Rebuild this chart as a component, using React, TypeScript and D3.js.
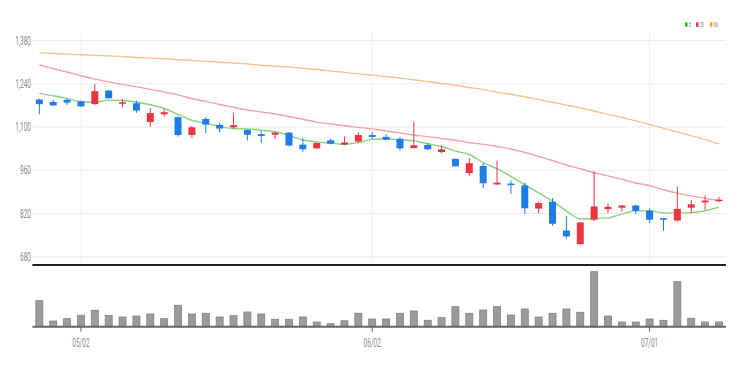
import React from "react";
import * as d3 from "d3";

const dates = ["04/27","04/28","04/29","05/02","05/03","05/04","05/06","05/09","05/10","05/11","05/12","05/13","05/16","05/17","05/18","05/19","05/20","05/23","05/24","05/25","05/26","05/27","05/30","05/31","06/02","06/03","06/07","06/08","06/09","06/10","06/13","06/14","06/15","06/16","06/17","06/20","06/21","06/22","06/23","06/24","06/27","06/28","06/29","06/30","07/01","07/04","07/05","07/06","07/07","07/08"];
const openP = [1189,1181,1188,1183,1174,1218,1176,1177,1116,1141,1132,1074,1126,1107,1099,1091,1077,1075,1082,1043,1031,1057,1043,1053,1074,1068,1062,1032,1042,1019,997,951,974,914,917,911,836,858,765,721,800,834,839,846,829,805,797,839,856,860];
const closeP = [1174,1170,1179,1167,1216,1193,1180,1153,1145,1148,1074,1099,1108,1095,1106,1075,1071,1082,1040,1028,1048,1046,1050,1074,1068,1059,1031,1041,1028,1028,973,983,918,920,912,837,854,787,746,791,843,842,846,829,800,800,835,850,862,865];
const highP = [1192,1188,1193,1185,1239,1219,1191,1185,1161,1158,1134,1104,1132,1114,1145,1092,1088,1085,1083,1064,1050,1062,1069,1083,1083,1077,1068,1117,1048,1040,998,999,983,991,927,920,858,870,810,793,956,852,848,848,837,806,907,864,878,873];
const lowP = [1141,1168,1172,1165,1172,1192,1164,1146,1101,1133,1069,1064,1080,1082,1093,1056,1048,1061,1038,1020,1029,1044,1041,1048,1061,1058,1024,1031,1026,1015,972,942,902,913,884,819,821,780,738,719,796,821,826,818,789,764,794,821,832,857];
const volume = [260000,57000,80000,114000,164000,114000,97000,107000,127000,80000,214000,127000,134000,97000,110000,147000,127000,74000,74000,97000,47000,30000,60000,134000,77000,77000,134000,157000,64000,90000,200000,134000,167000,200000,117000,177000,97000,134000,177000,144000,550000,107000,47000,47000,77000,64000,450000,84000,47000,47000];
const ma5 = [1209,1201,1192,1182,1180,1187,1186,1181,1172,1160,1141,1122,1112,1102,1095,1094,1090,1085,1073,1058,1052,1048,1044,1050,1060,1062,1059,1055,1046,1037,1022,1011,985,965,940,913,887,860,828,803,804,806,818,829,829,822,822,823,829,841];
const ma20 = [1301,1289,1278,1266,1255,1246,1238,1230,1222,1213,1204,1192,1183,1173,1164,1155,1149,1142,1134,1125,1116,1110,1104,1099,1094,1087,1081,1074,1069,1063,1057,1050,1044,1037,1029,1018,1005,991,977,965,952,942,931,919,910,897,886,877,869,862];
const ma60 = [1340,1338,1336,1334,1332,1330,1328,1325,1323,1321,1318,1315,1313,1310,1307,1304,1300,1297,1294,1290,1286,1281,1277,1272,1268,1263,1259,1253,1247,1241,1235,1228,1221,1213,1206,1198,1189,1180,1171,1162,1152,1141,1131,1120,1108,1096,1084,1072,1059,1045];
const priceTicks = [680, 820, 960, 1100, 1240, 1380];
const dateTicks = ["05/02", "06/02", "07/01"];
const legendLabels = ["5", "20", "60"];

const UP = "#ee3440";
const DOWN = "#1f7be6";
const MA_COLORS = ["#86d37f", "#f3a0a8", "#f7c28f"];

export default function App() {
  const W = 740, H = 367;
  const left = 32.4, right = 725.9;
  const priceBottom = 265;
  const volBase = 326.7;
  const x = d3.scaleBand<number>().domain(d3.range(dates.length)).range([left, right]).paddingInner(0.5).paddingOuter(0.25);
  const cx = (i: number) => (x(i) as number) + x.bandwidth() / 2;
  const bw = 7;
  const y = d3.scaleLinear().domain([680, 1380]).range([256.8, 40.5]);
  const yv = d3.scaleLinear().domain([0, d3.max(volume) as number]).range([volBase, 271.7]);
  const fmt = d3.format(",");
  const line = d3.line<number>().x((_, i) => cx(i)).y((d) => y(d)).curve(d3.curveMonotoneX);
  const labelFont = "Roboto, 'DejaVu Sans', sans-serif";

  return (
    <svg width={W} height={H} style={{ position: "absolute", left: 0, top: 0, background: "#fff" }}>
      {/* horizontal gridlines */}
      {priceTicks.map((t) => (
        <line key={"g" + t} x1={left} x2={right} y1={y(t)} y2={y(t)} stroke="#ececec" strokeWidth={1} />
      ))}
      {/* vertical gridlines */}
      {dateTicks.map((d) => {
        const i = dates.indexOf(d);
        return <line key={"vg" + d} x1={cx(i)} x2={cx(i)} y1={30} y2={priceBottom} stroke="#efefef" strokeWidth={1} />;
      })}
      {/* y labels */}
      {priceTicks.map((t) => (
        <g key={"yl" + t} transform={`translate(31,${y(t) + 4}) scale(0.54,1)`}>
          <text textAnchor="end" fontSize={12} fontFamily={labelFont} fill="#8a8a8a">{fmt(t)}</text>
        </g>
      ))}
      {/* MA lines */}
      {[ma60, ma20, ma5].map((s, k) => (
        <path key={"ma" + k} d={line(s) as string} fill="none" stroke={MA_COLORS[2 - k]} strokeWidth={1.4} />
      ))}
      {/* candles */}
      {dates.map((d, i) => {
        const up = closeP[i] >= openP[i];
        const c = up ? UP : DOWN;
        const top = y(Math.max(openP[i], closeP[i]));
        const bot = y(Math.min(openP[i], closeP[i]));
        return (
          <g key={"c" + i}>
            <line x1={cx(i)} x2={cx(i)} y1={y(highP[i])} y2={y(lowP[i])} stroke={c} strokeWidth={1} />
            <rect x={cx(i) - bw / 2} y={top} width={bw} height={Math.max(1.5, bot - top)} fill={c} />
          </g>
        );
      })}
      {/* price panel bottom */}
      <line x1={left} x2={right} y1={priceBottom} y2={priceBottom} stroke="#222" strokeWidth={2} />
      {/* volume bars */}
      {volume.map((v, i) => (
        <rect key={"v" + i} x={cx(i) - bw / 2} y={yv(v)} width={bw} height={volBase - yv(v)} fill="#9b9b9b" stroke="#808080" strokeWidth={0.8} />
      ))}
      <line x1={left} x2={right} y1={volBase} y2={volBase} stroke="#666" strokeWidth={2} />
      {/* x ticks */}
      {dateTicks.map((d) => {
        const i = dates.indexOf(d);
        return (
          <g key={"xt" + d}>
            <line x1={cx(i)} x2={cx(i)} y1={volBase} y2={volBase + 5} stroke="#666" strokeWidth={1} />
            <g transform={`translate(${cx(i)},${347}) scale(0.54,1)`}>
              <text textAnchor="middle" fontSize={12} fontFamily={labelFont} fill="#8a8a8a">{d}</text>
            </g>
          </g>
        );
      })}
      {/* legend */}
      {legendLabels.map((l, k) => {
        const xs = [685, 696, 710][k];
        return (
          <g key={"lg" + k}>
            <rect x={xs} y={22.3} width={2.5} height={4.5} fill={["#2fb33a", "#e8343c", "#f29b2f"][k]} />
            <g transform={`translate(${xs + 3.8},27) scale(0.55,1)`}>
              <text fontSize={6.5} fontFamily={labelFont} fill="#777">{l}</text>
            </g>
          </g>
        );
      })}
    </svg>
  );
}
